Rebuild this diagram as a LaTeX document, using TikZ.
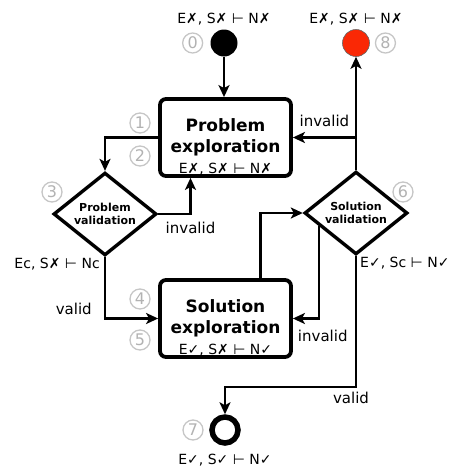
\documentclass[tikz,border=0pt]{standalone}
\usepackage{fontspec}
\setmainfont{DejaVu Sans}
\usetikzlibrary{shapes.geometric, arrows.meta, calc, positioning}

\definecolor{failred}{RGB}{250,40,5}
\newcommand{\cmark}{✓}
\newcommand{\xmark}{✗}
\newcommand{\tstile}{⊢}

\begin{document}
\begin{tikzpicture}[
    x=1pt, y=-1pt,
    task/.style={rectangle, draw, line width=3.8pt, rounded corners=6pt, minimum width=131pt, minimum height=77pt, inner sep=0pt, align=center, font=\fontsize{17}{21}\selectfont\bfseries},
    test/.style={diamond, draw, line width=3.4pt, minimum width=103pt, minimum height=63pt, inner sep=0pt, align=center, font=\fontsize{11}{12.5}\selectfont\bfseries},
    line/.style={draw, line width=2.5pt, -{Stealth[length=12pt, width=11pt, inset=3pt]}},
    guard/.style={font=\fontsize{15}{17}\selectfont, inner sep=2pt},
    formula/.style={font=\fontsize{14}{16}\selectfont, inner sep=1pt},
    stepnum/.style={circle, draw=gray!45, line width=1.3pt, text=gray!60, minimum size=20pt, inner sep=0pt, font=\fontsize{16}{16}\selectfont}
]
    \useasboundingbox (0,0) rectangle (454,475);

    % Nodes
    % start, failure and end points
    \node [circle, fill=black, minimum size=27pt, inner sep=0pt] (init) at (224,43) {};
    \node [circle, draw=black!60, line width=0.6pt, fill=failred, minimum size=27pt, inner sep=0pt] (fail) at (356,43) {};
    \node [circle, draw, line width=5.5pt, fill=white, minimum size=26pt, inner sep=0pt] (done) at (225,430) {};

    % exploration boxes and validation tests
    \node [task] (pexp) at (225.5,137.5) {\rule{0pt}{31pt}Problem\\exploration\\{\fontsize{14}{15}\mdseries\selectfont E\xmark, S\xmark{} \tstile{} N\xmark}};
    \node [task] (sexp) at (225.5,318.5) {\rule{0pt}{31pt}Solution\\exploration\\{\fontsize{14}{15}\mdseries\selectfont E\cmark, S\xmark{} \tstile{} N\cmark}};
    \node [test] (pval) at (105,214) {Problem\\validation};
    \node [test] (sval) at (356,213) {Solution\\validation};

    % states
    \node [formula, above=3pt of init] (initlab) {E\xmark, S\xmark{} \tstile{} N\xmark};
    \node [formula, above=3pt of fail] (faillab) {E\xmark, S\xmark{} \tstile{} N\xmark};
    \node [formula, below=7pt of done] (donelab) {E\cmark, S\cmark{} \tstile{} N\cmark};
    \node [formula, anchor=north east] (pvallab) at ([xshift=-4pt]pval.south) {Ec, S\xmark{} \tstile{} Nc};
    \node [formula, anchor=north west] (svallab) at ([xshift=3pt]sval.south) {E\cmark, Sc \tstile{} N\cmark};

    % step numbers
    \node [stepnum, left=7pt of init] (n0) {0};
    \node [stepnum, right=5pt of fail] (n8) {8};
    \node [stepnum] (n1) at (140,123) {1};
    \node [stepnum] (n2) at (140,156) {2};
    \node [stepnum] (n3) at (52,192) {3};
    \node [stepnum] (n4) at (140,299) {4};
    \node [stepnum] (n5) at (140,340) {5};
    \node [stepnum] (n6) at (403,192) {6};
    \node [stepnum] (n7) at (193,430) {7};

    % Connections
    \draw [line] (init) -- (init |- pexp.north);
    \draw [line] (pexp.west) -| (pval.north);
    \draw [line] (pval.east) -| node [guard, pos=0.5, below=5pt] {invalid} ([xshift=-35pt]pexp.south);
    \draw [line] (pval.south) |- node [guard, pos=0.5, anchor=south east, xshift=-10pt, yshift=1pt] {valid} (sexp.west);

    \draw [line] ([xshift=35pt]sexp.north) |- (sval.west);
    \draw [line] ($(sval.west)!0.3!(sval.south)$) |- node [guard, pos=0.5, below=8pt, xshift=4pt] {invalid} (sexp.east);

    % back to problem exploration or failure
    \draw [line] (sval.north) -- (fail.south);
    \draw [line] (sval.north |- pexp.east) -- node [guard, above=8pt] {invalid} (pexp.east);

    % to the end
    \draw [line] (sval.south) -- ++(0,131) node [guard, below=2pt, xshift=-5pt] {valid} -| (done.north);

\end{tikzpicture}
\end{document}
